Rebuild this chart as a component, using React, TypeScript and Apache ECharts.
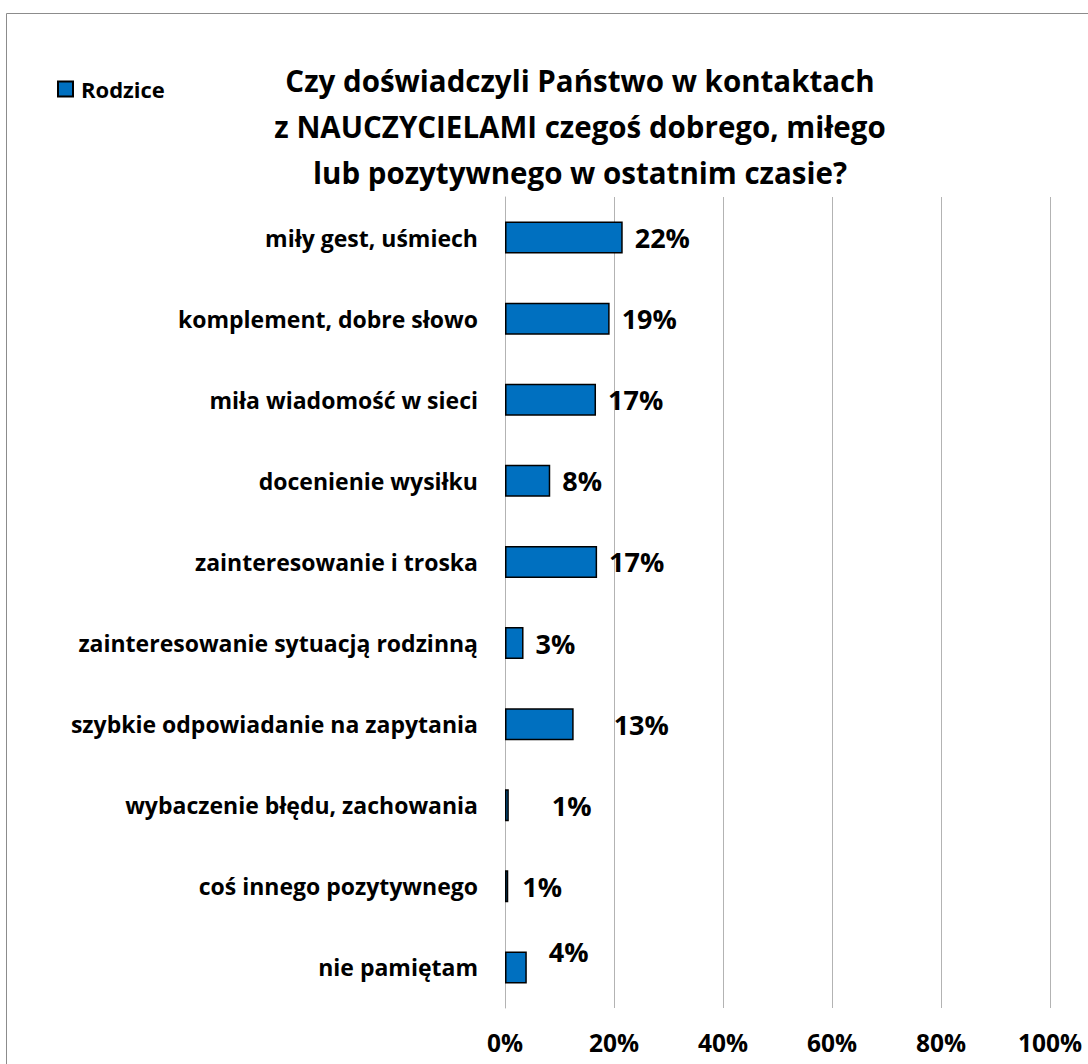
import React, { useEffect, useRef } from "react";
import * as echarts from "echarts";

const categories = [
  "miły gest, uśmiech",
  "komplement, dobre słowo",
  "miła wiadomość w sieci",
  "docenienie wysiłku",
  "zainteresowanie i troska",
  "zainteresowanie sytuacją rodzinną",
  "szybkie odpowiadanie na zapytania",
  "wybaczenie błędu, zachowania",
  "coś innego pozytywnego",
  "nie pamiętam",
];
// bar lengths as drawn (percent)
const barValues = [21.6, 19.2, 16.7, 8.3, 16.9, 3.4, 12.6, 0.7, 0.6, 4.0];
// labels as printed
const labelTexts = ["22%", "19%", "17%", "8%", "17%", "3%", "13%", "1%", "1%", "4%"];
// per-bar label offsets (as in the reference's manual label placement)
const labelOffsets: [number, number][] = [
  [0, 0], [0, 0], [0, 0], [0, 0], [0, 0], [0, 0], [28, 0], [31, 0], [2, 0], [10, -16],
];
const xTicks = [0, 20, 40, 60, 80, 100];
const seriesName = "Rodzice";
const titleText =
  "Czy doświadczyli Państwo w kontaktach\nz NAUCZYCIELAMI czegoś dobrego, miłego\nlub pozytywnego w ostatnim czasie?";

const FONT = "'Open Sans', 'Noto Sans', sans-serif";

export default function App() {
  const ref = useRef<HTMLDivElement>(null);
  useEffect(() => {
    if (!ref.current) return;
    const chart = echarts.init(ref.current, null, { renderer: "svg" });
    chart.setOption({
      animation: false,
      backgroundColor: "#ffffff",
      textStyle: { fontFamily: FONT },
      title: {
        text: titleText,
        left: 575,
        top: 52,
        textAlign: "center",
        textStyle: {
          fontFamily: FONT,
          fontSize: 29.5,
          fontWeight: "bold",
          color: "#000",
          lineHeight: 46,
        },
      },
      legend: {
        left: 52,
        top: 73,
        icon: "rect",
        itemWidth: 15,
        itemHeight: 15,
        itemGap: 6,
        data: [seriesName],
        textStyle: { fontFamily: FONT, fontSize: 22, fontWeight: "bold", color: "#000", padding: [0, 0, 0, 3] },
      },
      graphic: [
        {
          type: "rect",
          shape: { x: 6.5, y: 13.5, width: 1200, height: 1200 },
          style: { fill: "none", stroke: "#8c8c8c", lineWidth: 1 },
          silent: true,
        },
      ],
      grid: { left: 505, right: 38, top: 197, bottom: 56, containLabel: false },
      xAxis: {
        type: "value",
        min: 0,
        max: 100,
        interval: 20,
        axisLine: { show: false },
        axisTick: { show: false },
        splitLine: { show: true, lineStyle: { color: "#b3b3b3", width: 1 } },
        axisLabel: {
          margin: 22,
          fontFamily: FONT,
          fontSize: 24.5,
          fontWeight: "bold",
          color: "#000",
          formatter: (v: number) => (xTicks.includes(v) ? v + "%" : ""),
        },
      },
      yAxis: {
        type: "category",
        inverse: true,
        data: categories,
        axisLine: { show: true, lineStyle: { color: "#b3b3b3" } },
        axisTick: { show: false },
        axisLabel: {
          margin: 27,
          fontFamily: FONT,
          fontSize: 23,
          fontWeight: "bold",
          color: "#000",
        },
      },
      series: [
        {
          name: seriesName,
          type: "bar",
          barWidth: 32,
          itemStyle: { color: "#0070C0", borderColor: "#000", borderWidth: 1.5 },
          data: barValues.map((v, i) => ({
            value: v,
            label: {
              show: true,
              position: "right",
              distance: 12,
              offset: labelOffsets[i],
              formatter: () => labelTexts[i],
              fontFamily: FONT,
              fontSize: 27,
              fontWeight: "bold",
              color: "#000",
            },
          })),
        },
      ],
    });
    return () => chart.dispose();
  }, []);
  return (
    <div
      ref={ref}
      style={{ position: "fixed", left: 0, top: 0, width: 1088, height: 1064 }}
    />
  );
}
